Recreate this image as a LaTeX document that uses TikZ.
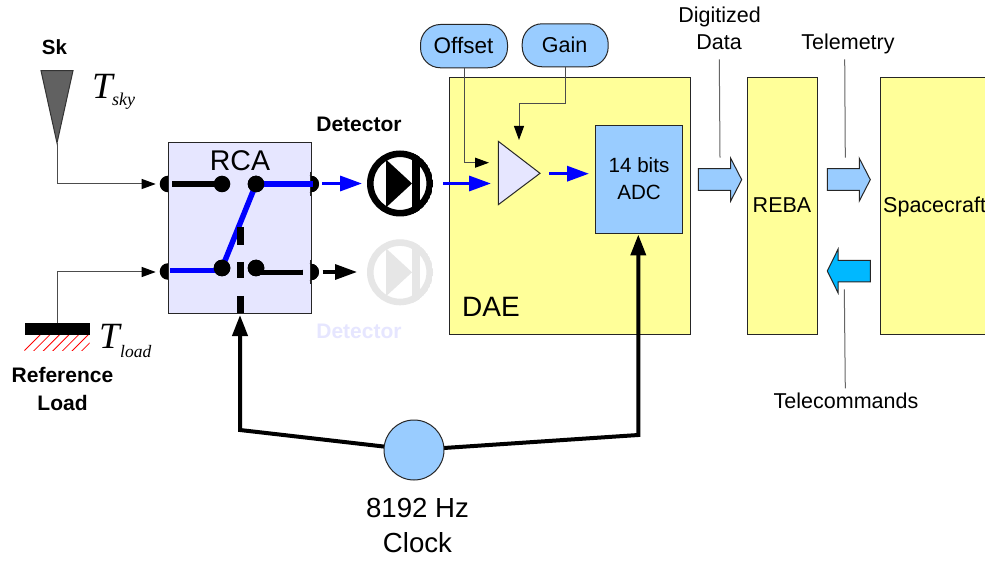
\documentclass[tikz,border=0pt]{standalone}
\usepackage{fontspec}
\setmainfont{Liberation Sans}
\newfontfamily\timesfam{Liberation Serif}
\usetikzlibrary{arrows.meta,calc}
\definecolor{boxyellow}{HTML}{FFFF99}
\definecolor{lightblue}{HTML}{99CCFF}
\definecolor{lav}{HTML}{E6E6FF}
\definecolor{cyanblue}{HTML}{00B8FF}
\definecolor{ghost}{HTML}{E6E6E6}
\newcommand{\fsz}[1]{\fontsize{#1}{#1}\selectfont}
\tikzset{
  x=1pt,y=-1pt,
  lbl/.style={inner sep=0pt,font=\fsz{21.5}},
  bold lbl/.style={inner sep=0pt,font=\fsz{21}\bfseries},
  pxbox/.style={draw=black!85,line width=1pt,inner sep=0pt,anchor=north west},
  thin link/.style={draw=black!70,line width=1pt},
  thin arrow/.style={thin link,-{Triangle[length=14pt,width=10pt,color=black]}},
  blue arrow/.style={draw=blue,line width=3.3pt,-{Triangle[length=22pt,width=15pt]}},
  black arrow/.style={draw=black,line width=3.3pt,-{Triangle[length=22pt,width=15pt]}},
  clock link/.style={draw=black,line width=4pt},
  clock arrow/.style={clock link,-{Triangle[length=21pt,width=15pt]}},
  sw black/.style={draw=black,line width=5.5pt},
  sw blue/.style={draw=blue,line width=5.5pt},
  dot/.style={circle,fill=black,inner sep=0pt,minimum size=16.6pt},
  block arrow/.style={draw=black!85,line width=1pt,line join=miter},
  pointer/.style={draw=black!60,line width=1pt},
}
\newcommand{\diode}[3]{%
  \begin{scope}[shift={(#1)}]
    \clip (0,0) circle (33);
    \fill[#2] (12,-33) rectangle (20,33);
    \fill[#2] (-14,-24) -- (-14,24) -- (12,0) -- cycle;
    \draw[#2,line width=6.6pt] (0,0) circle (29.7);
  \end{scope}
  \node[circle,minimum size=66pt,inner sep=0pt] (#3) at (#1) {};}
\begin{document}
\begin{tikzpicture}
\useasboundingbox (0,0) rectangle (985,561);
\fill[white] (0,0) rectangle (985,561);

% Left/right RCA port dots (left ones are hidden behind the box)
\node[dot] (pa) at (168,184) {};
\node[dot] (pb) at (168,271.5) {};
\node[dot] (pc) at (310.7,184) {};
\node[dot] (pd) at (310.7,272) {};

% RCA
\node[pxbox,fill=lav,minimum width=143pt,minimum height=171.6pt] (rca) at (167.7,141.7) {};
\node[lbl,font=\fsz{28.5}] (rcat) at (240,161) {RCA};
\node[dot] (sa) at (222,184) {};
\node[dot] (sb) at (256,184) {};
\node[dot] (sw3) at (222,268) {};
\node[dot] (sw4) at (256,268) {};
\fill (pc) circle (8.3);
\fill (pd) circle (8.3);
\fill[lav] (303,264) rectangle (310,280);
\draw[black!85,line width=1pt] (310.7,260) -- (310.7,284);
\fill[lav] (303,176) rectangle (310,192);
\draw[black!85,line width=1pt] (310.7,172) -- (310.7,196);

\coordinate (la) at (172,184);
\coordinate (lb) at (170,270.7);
\coordinate (lc) at (222,270.7);
\coordinate (rb) at (303,272.3);
\coordinate (rc) at (256,272.3);
\draw[sw black] (la) -- (sa.center);
\draw[sw blue] (sb.center) -- (313,184);
\draw[sw blue] (sb.center) -- (sw3.center);
\draw[sw blue] (lb) -- (lc);
\draw[sw black] (rc) -- (rb);
\fill (sw3) circle (8.3);
\fill (sb) circle (8.3);
\fill (sw4) circle (8.3);
\draw[black,line width=7pt,line cap=butt] (240,227) -- (240,245) (240,262) -- (240,278) (240,296) -- (240,313);

% Sky horn
\coordinate (hl) at (41,70.7);
\coordinate (hr) at (73,70.7);
\coordinate (ht) at (57,143);
\draw[draw=black!80,fill=black!62,line width=1pt,line join=miter] (hl) -- (hr) -- (ht) -- cycle;
\node[bold lbl,font=\fsz{20.5}\bfseries] (skt) at (54.5,47) {Sk};
\coordinate (tipa) at (155.7,184);
\draw[thin arrow] (ht) |- (tipa);

% T labels
\node[inner sep=0pt,anchor=base west,font=\timesfam\fsz{37}\itshape] (tsky) at (92,98.5) {T};
\node[inner sep=0pt,anchor=base west,font=\timesfam\fsz{18}\itshape] (tskys) at (112,106) {sky};
\node[inner sep=0pt,anchor=base west,font=\timesfam\fsz{37}\itshape] (tload) at (99,348.5) {T};
\node[inner sep=0pt,anchor=base west,font=\timesfam\fsz{17.5}\itshape] (tloads) at (120,357) {load};

% Reference load
\begin{scope}
  \clip (24.3,334) rectangle (89.7,350.7);
  \foreach \i in {0,...,8} {\draw[red,line width=0.8pt] ({23+\i*9.6},352) -- ({23+\i*9.6+18},334);}
\end{scope}
\node[inner sep=0pt,fill=black,anchor=north west,minimum width=65.4pt,minimum height=11.3pt] (load) at (24.3,323) {};
\coordinate (tipb) at (155.7,272);
\draw[thin arrow] (load.north) |- (tipb);
\node[bold lbl] (reft) at (62.5,375) {Reference};
\node[bold lbl] (loadt) at (62.5,403) {Load};

% Detectors
\node[bold lbl] (dett) at (359,124) {Detector};
\node[bold lbl,text=lav] (dettb) at (359,331) {Detector};
\diode{400,183.5}{black}{d1}
\diode{400,272.3}{ghost}{d2}
\coordinate (outa) at (322,183.5);
\coordinate (outb) at (322.7,272);
\coordinate (outc) at (362,183.5);
\coordinate (outd) at (357,272);
\draw[blue arrow] (outa) -- (outc);
\draw[black arrow] (outb) -- (outd);

% DAE
\node[pxbox,fill=boxyellow,minimum width=241pt,minimum height=257.6pt] (dae) at (449,76.7) {};
\node[lbl,font=\fsz{28}] (daet) at (491,307) {DAE};
\node[pxbox,fill=lightblue,rounded corners=20pt,minimum width=87pt,minimum height=43.3pt] (offset) at (420,24) {};
\node[lbl,font=\fsz{22.5}] (offt) at (463.5,45) {Offset};
\node[pxbox,fill=lightblue,rounded corners=20pt,minimum width=86pt,minimum height=43pt] (gain) at (521.7,23.3) {};
\node[lbl] (gaint) at (564.7,44.5) {Gain};
\coordinate (amptl) at (498.3,141.3);
\coordinate (ampbl) at (498.3,204.7);
\coordinate (ampr) at (540,173.3);
\draw[draw=black!85,fill=lav,line width=1pt,line join=miter] (amptl) -- (ampbl) -- (ampr) -- cycle;
\node[pxbox,fill=lightblue,minimum width=86.7pt,minimum height=107.4pt] (adc) at (595,125.3) {};
\node[lbl,font=\fsz{20.6}] (adct) at (639,165.5) {14 bits};
\node[lbl,font=\fsz{20.6}] (adcb) at (639,192) {ADC};

\coordinate (oftip) at (489,162.7);
\draw[thin arrow] (offset.south) -- (oftip -| offset.south) -- (oftip);
\coordinate (gatip) at (519,140);
\coordinate (gaj) at (565,103.7);
\draw[thin arrow] (gaj |- gain.south) -- (gaj) -- (gaj -| gatip) -- (gatip);
\coordinate (ina) at (443,183.5);
\coordinate (inb) at (491,183.5);
\draw[blue arrow] (ina) -- (inb);
\coordinate (ampo) at (549,173.7);
\coordinate (adci) at (589,173.7);
\draw[blue arrow] (ampo) -- (adci);

% Clock
\coordinate (cl) at (240,430);
\coordinate (cr) at (638.3,435);
\coordinate (rcatip) at (240,315);
\coordinate (adctip) at (638.3,234.5);
\coordinate (cc) at (414,450);
\draw[clock arrow] (cc) -- (cl) -- (rcatip);
\draw[clock arrow] (cc) -- (cr) -- (adctip);
\node[draw=black!85,fill=lightblue,line width=1pt,circle,minimum size=60pt,inner sep=0pt] (clk) at (cc) {};
\node[lbl,font=\fsz{27.6}] (c1) at (417.5,508) {8192 Hz};
\node[lbl,font=\fsz{27.6}] (c2) at (417.5,543) {Clock};

% REBA and Spacecraft
\node[pxbox,fill=boxyellow,minimum width=69.7pt,minimum height=257.6pt] (reba) at (747.3,76.7) {};
\node[lbl] (rebat) at (782,205) {REBA};
\node[pxbox,fill=boxyellow,minimum width=120pt,minimum height=257.6pt] (craft) at (880.3,76.7) {};
\node[lbl,anchor=west] (sct) at (883,207) {Spacecraft};

% Block arrows
\draw[block arrow,fill=lightblue] (698.3,168.7) -- (730.7,168.7) -- (730.7,158.3) -- (741.7,179.7) -- (730.7,201) -- (730.7,190.3) -- (698.3,190.3) -- cycle;
\draw[block arrow,fill=lightblue] (827.3,168.7) -- (859.3,168.7) -- (859.3,158.3) -- (870.3,179.7) -- (859.3,201) -- (859.3,190.3) -- (827.3,190.3) -- cycle;
\draw[block arrow,fill=cyanblue] (870.3,260.3) -- (838,260.3) -- (838,249.3) -- (827.3,271) -- (838,292.7) -- (838,282) -- (870.3,282) -- cycle;

% Labels with pointers
\node[lbl] (dig1) at (719.5,16.5) {Digitized};
\node[lbl] (dig2) at (719,42.5) {Data};
\node[lbl] (tel) at (848,44) {Telemetry};
\node[lbl] (tc) at (846,401) {Telecommands};
\coordinate (p1a) at (719.3,59.3);
\coordinate (p1b) at (720,157.7);
\coordinate (p2a) at (844.7,59.3);
\coordinate (p2b) at (845.3,157.7);
\coordinate (p3a) at (844.3,289.3);
\coordinate (p3b) at (845.3,388.3);
\draw[pointer] (p1a) -- (p1b);
\draw[pointer] (p2a) -- (p2b);
\draw[pointer] (p3a) -- (p3b);
\end{tikzpicture}
\end{document}
